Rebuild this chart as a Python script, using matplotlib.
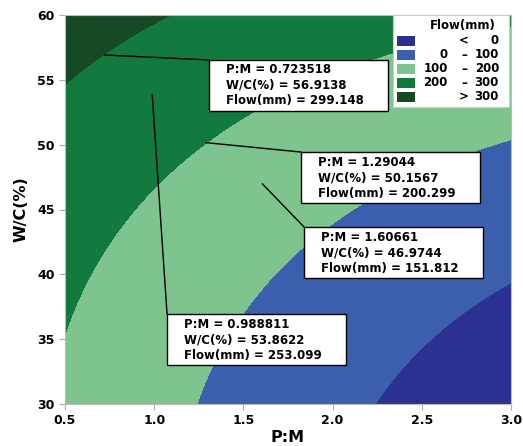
import numpy as np
import matplotlib
matplotlib.use("Agg")
import matplotlib.pyplot as plt
from matplotlib.patches import Rectangle

plt.rcParams['font.family'] = ['DejaVu Sans']
plt.rcParams['font.weight'] = 'bold'

# contour boundaries: (P:M, W/C, Flow level)
pm_pts = [0.5, 0.72, 0.85, 1.07,
          0.5, 0.556, 0.79, 0.937, 2.29,
          1.245, 1.52, 1.593, 1.834, 2.165, 2.826, 3.0,
          2.24, 2.47, 2.83, 3.0]
wc_pts = [54.85, 56.9, 58.2, 60.0,
          35.4, 38.0, 43.2, 45.7, 57.1,
          30.0, 37.0, 38.25, 42.1, 45.5, 49.4, 50.2,
          30.0, 33.9, 38.0, 39.6]
flow_pts = [300, 300, 300, 300,
            200, 200, 200, 200, 200,
            100, 100, 100, 100, 100, 100, 100,
            0, 0, 0, 0]

# annotated points
ann_pm = [0.723518, 1.29044, 1.60661, 0.988811]
ann_wc = [56.9138, 50.1567, 46.9744, 53.8622]
ann_flow = [299.148, 200.299, 151.812, 253.099]

levels = [0, 100, 200, 300]
level_labels = [("", "<", "0"), ("0", "\u2013", "100"), ("100", "\u2013", "200"),
                ("200", "\u2013", "300"), ("", ">", "300")]
colors = ["#2b3190", "#3c5fad", "#7dc48e", "#127a3e", "#164a26"]


def terms(x, y):
    x = np.asarray(x, float)
    y = np.asarray(y, float)
    return np.column_stack([np.ones_like(x), x, y, x * x, y * y, x * y])


# fit a quadratic response surface through the read points
A = np.vstack([terms(pm_pts, wc_pts), 10 * terms(ann_pm, ann_wc)])
b = np.concatenate([flow_pts, 10 * np.array(ann_flow)])
coef = np.linalg.lstsq(A, b, rcond=None)[0]

xg, yg = np.meshgrid(np.linspace(0.5, 3.0, 400), np.linspace(30, 60, 400))
zg = (terms(xg.ravel(), yg.ravel()) @ coef).reshape(xg.shape)

fig = plt.figure(figsize=(5.23, 4.46), dpi=100)
ax = fig.add_axes([65 / 523, 1 - 404 / 446, 446 / 523, 389 / 446])
ax.contourf(xg, yg, zg, levels=[-1e9] + levels + [1e9], colors=colors)

ax.set_xlim(0.5, 3.0)
ax.set_ylim(30, 60)
ax.set_xticks([0.5, 1.0, 1.5, 2.0, 2.5, 3.0])
ax.set_yticks([30, 35, 40, 45, 50, 55, 60])
ax.tick_params(colors="#aaaaaa", labelcolor="black", labelsize=9, length=4)
for s in ax.spines.values():
    s.set_color("#bbbbbb")
ax.set_xlabel("P:M", fontsize=11.5, fontweight="bold", labelpad=2)
ax.set_ylabel("W/C(%)", fontsize=11.5, fontweight="bold", labelpad=6)

# annotation boxes (top-left corner in data coords)
box_tl = [(1.307, 56.53), (1.823, 49.43), (1.840, 43.65), (1.072, 36.94)]
bw, bh = 179 / 446 * 2.5, 51 / 389 * 30
for i in range(4):
    bx, by = box_tl[i]
    ax.plot([ann_pm[i], bx], [ann_wc[i], by], color="black", lw=1, zorder=4)
    ax.add_patch(Rectangle((bx, by - bh), bw, bh, facecolor="white",
                           edgecolor="black", lw=1, zorder=5))
    txt = "P:M = %s\nW/C(%%) = %s\nFlow(mm) = %s" % (
        format(ann_pm[i], "g"), format(ann_wc[i], "g"), format(ann_flow[i], "g"))
    ax.text(bx + 17 / 446 * 2.5, by - bh / 2, txt, fontsize=8.5, fontweight="bold",
            va="center", ha="left", linespacing=1.25, zorder=6)


def f(x, y):
    return (x / 523, 1 - y / 446)


# legend drawn by hand
fig.patches.append(Rectangle(f(393, 107), 116 / 523, 92 / 446, transform=fig.transFigure,
                             facecolor="white", edgecolor="#cccccc", lw=0.8, zorder=10))
fig.text(*f(463, 25), "Flow(mm)", fontsize=8.5, fontweight="bold",
         ha="center", va="center", zorder=11)
row_y = [41, 55, 69, 83, 97]
for i in range(5):
    y = row_y[i]
    fig.patches.append(Rectangle(f(397, y + 5), 18 / 523, 10 / 446, transform=fig.transFigure,
                                 facecolor=colors[i], edgecolor="none", zorder=11))
    lo, sep, hi = level_labels[i]
    fig.text(*f(448, y), lo, fontsize=8.5, fontweight="bold", ha="right", va="center", zorder=12)
    fig.text(*f(464, y), sep, fontsize=8.5, fontweight="bold", ha="center", va="center", zorder=12)
    fig.text(*f(499, y), hi, fontsize=8.5, fontweight="bold", ha="right", va="center", zorder=12)

fig.savefig("out.png", dpi=100)
